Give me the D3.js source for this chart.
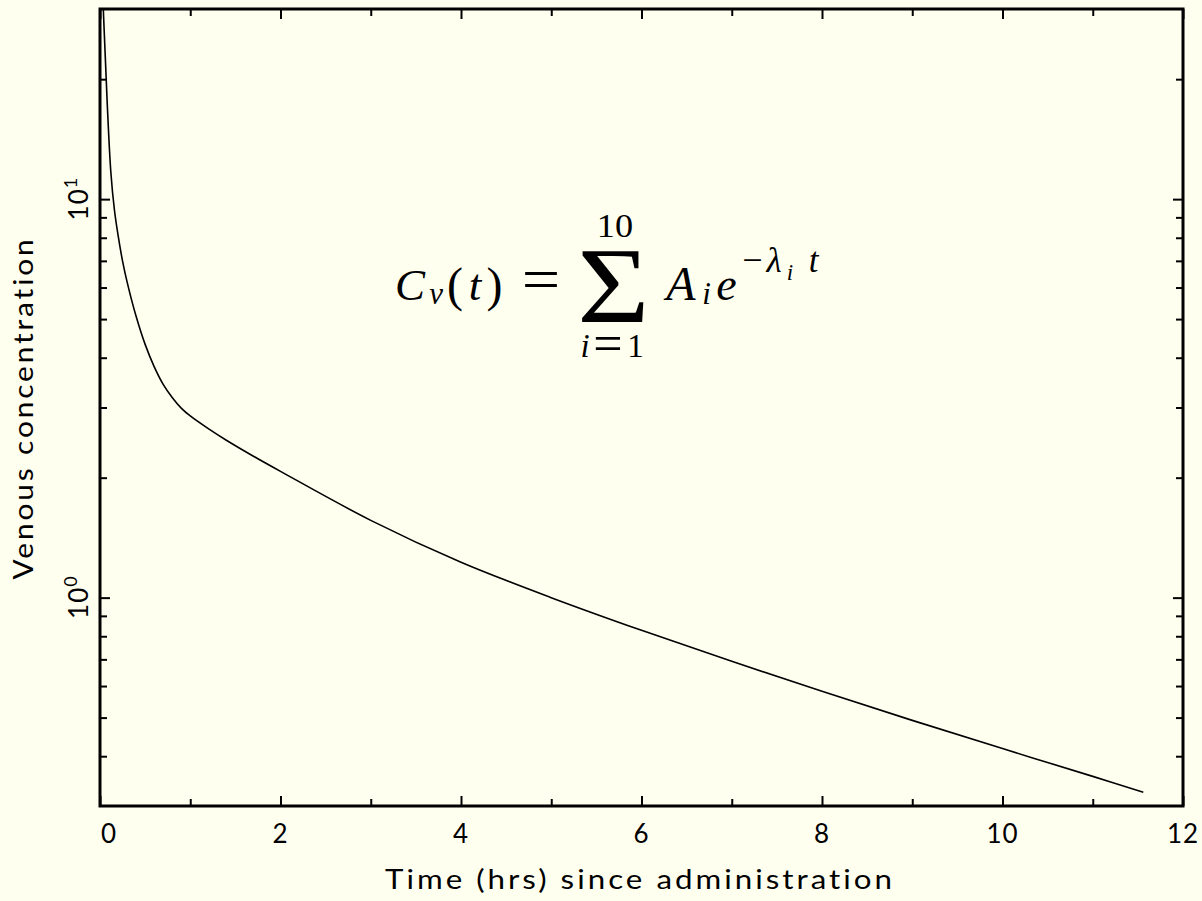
<!DOCTYPE html>
<html>
<head>
<meta charset="utf-8">
<script src="https://cdn.jsdelivr.net/npm/d3@7"></script>
<style>
  html, body { margin: 0; padding: 0; background: #fffff0; }
  svg { display: block; }
  .lbl { font-family: "Lato", "DejaVu Sans", sans-serif; font-weight: 400; fill: #000; }
  .math { font-family: "Liberation Serif", "DejaVu Serif", serif; fill: #000; }
</style>
</head>
<body>
<svg class="conc-chart" width="1202" height="901"></svg>
<script>
// venous concentration (hrs, concentration)
const times = [0, 0.04, 0.08, 0.12, 0.16, 0.2, 0.25, 0.3, 0.4, 0.5, 0.6, 0.7, 0.8, 0.9, 1.0,
               1.2, 1.4, 1.7, 2, 3, 4, 5, 6, 7, 8, 9, 10, 11, 11.56];
const conc  = [49.9, 28.7, 17.4, 11.7, 9.39, 8.12, 6.99, 6.20, 5.08, 4.32, 3.80, 3.43, 3.18, 2.99, 2.857,
               2.655, 2.483, 2.264, 2.074, 1.563, 1.227, 1.0, 0.828, 0.692, 0.582, 0.492, 0.418, 0.356, 0.325];

const xMajorTicks = [0, 2, 4, 6, 8, 10, 12];
const xMinorTicks = [1, 3, 5, 7, 9, 11];
const yMajorTicks = [1, 10];
const yMinorTicks = [0.4, 0.5, 0.6, 0.7, 0.8, 0.9, 2, 3, 4, 5, 6, 7, 8, 9, 20];
const yMajorExp = ["0", "1"];

function drawChart() {
    const svg = d3.select("svg.conc-chart");
    const margin = {top: 9, right: 19, bottom: 95, left: 100};
    const width = +svg.attr("width") - margin.left - margin.right;
    const height = +svg.attr("height") - margin.top - margin.bottom;

    const x = d3.scaleLinear().domain([0, 12]).range([0, width]);
    const y = d3.scaleLog().domain([0.3, 30]).range([height, 0]);

    const g = svg.append("g")
        .attr("transform", `translate(${margin.left}, ${margin.top})`);

    g.append("clipPath").attr("id", "plot-clip")
      .append("rect").attr("width", width).attr("height", height);

    // curve
    const pts = times.map((t, i) => ({t: t, c: conc[i]}));
    g.append("path")
        .datum(pts)
        .attr("clip-path", "url(#plot-clip)")
        .attr("fill", "none")
        .attr("stroke", "#000")
        .attr("stroke-width", 1.6)
        .attr("d", d3.line().x(d => x(d.t)).y(d => y(d.c)).curve(d3.curveCatmullRom.alpha(0.5)));

    // ticks on all four sides, pointing inward
    function tickAxis(axisFn, scale, values, size, transform) {
        const a = g.append("g")
            .attr("transform", transform)
            .call(axisFn(scale).tickValues(values).tickSize(-size).tickFormat(""));
        a.select(".domain").remove();
        a.selectAll(".tick line").attr("stroke", "#000").attr("stroke-width", 2);
        return a;
    }
    tickAxis(d3.axisBottom, x, xMajorTicks, 10, `translate(0, ${height})`);
    tickAxis(d3.axisBottom, x, xMinorTicks, 7, `translate(0, ${height})`);
    tickAxis(d3.axisTop, x, xMajorTicks, 10, "translate(0, 0)");
    tickAxis(d3.axisTop, x, xMinorTicks, 7, "translate(0, 0)");
    tickAxis(d3.axisLeft, y, yMajorTicks, 10, "translate(0, 0)");
    tickAxis(d3.axisLeft, y, yMinorTicks, 7, "translate(0, 0)");
    tickAxis(d3.axisRight, y, yMajorTicks, 10, `translate(${width}, 0)`);
    tickAxis(d3.axisRight, y, yMinorTicks, 7, `translate(${width}, 0)`);

    // frame
    g.append("rect")
        .attr("width", width).attr("height", height)
        .attr("fill", "none").attr("stroke", "#000").attr("stroke-width", 3);

    // x tick labels
    g.selectAll(".xlab")
        .data(xMajorTicks)
        .enter().append("text")
            .attr("class", "lbl xlab")
            .attr("x", d => d === 0 ? x(d) + 1 : x(d))
            .attr("y", height + 37)
            .attr("text-anchor", d => d === 0 ? "start" : "middle")
            .attr("font-size", 26)
            .attr("letter-spacing", 1)
            .text(d => d);

    // y tick labels (rotated powers of ten)
    const yl = g.selectAll(".ylab")
        .data(yMajorTicks)
        .enter().append("text")
            .attr("class", "lbl ylab")
            .attr("transform", d => `translate(${-12}, ${y(d)}) rotate(-90)`)
            .attr("text-anchor", "middle")
            .attr("font-size", 26);
    yl.append("tspan").attr("letter-spacing", 1).text("10");
    yl.append("tspan").attr("dy", -11).attr("font-size", 18).text((d, i) => yMajorExp[i]);

    // axis titles
    svg.append("text")
        .attr("class", "lbl")
        .attr("x", 640).attr("y", 889)
        .attr("text-anchor", "middle")
        .attr("font-size", 26)
        .attr("letter-spacing", 2.5)
        .attr("textLength", 510).attr("lengthAdjust", "spacingAndGlyphs")
        .text("Time (hrs) since administration");

    svg.append("text")
        .attr("class", "lbl")
        .attr("transform", "translate(33, 408) rotate(-90)")
        .attr("text-anchor", "middle")
        .attr("font-size", 26)
        .attr("letter-spacing", 2.5)
        .attr("textLength", 343).attr("lengthAdjust", "spacingAndGlyphs")
        .text("Venous concentration");

    // formula, one glyph at a time: [text, centre x, baseline, size, italic, x-stretch]
    const glyphs = [
        ["C", 410, 300, 45, true, 1],
        ["v", 436, 304, 31, true, 1],
        ["(", 455, 301, 48, false, 1],
        ["t", 475, 300, 45, true, 1],
        [")", 494.5, 301, 48, false, 1],
        ["=", 541, 300, 62, false, 1.1],
        ["Σ", 613.5, 322, 108, false, 1.15],
        ["10", 615, 237, 33, false, 1.1],
        ["i", 585, 357, 33, true, 1],
        ["=", 608, 361, 52, false, 1],
        ["1", 635.5, 357, 33, false, 1],
        ["A", 681, 300, 48, true, 1],
        ["i", 706.5, 304, 31, true, 1],
        ["e", 726.5, 300, 46, true, 1],
        ["−", 752.5, 272, 36, false, 1],
        ["λ", 774, 272, 35, true, 1],
        ["i", 790, 280, 23, true, 1],
        ["t", 813.5, 272, 35, true, 1]
    ];
    svg.append("g").attr("class", "math")
        .selectAll("text")
        .data(glyphs)
        .enter().append("text")
            .attr("transform", d => `translate(${d[1]}, ${d[2]}) scale(${d[5]}, 1)`)
            .attr("font-size", d => d[3])
            .attr("font-style", d => d[4] ? "italic" : "normal")
            .attr("text-anchor", "middle")
            .text(d => d[0]);
}

drawChart();
</script>
</body>
</html>
